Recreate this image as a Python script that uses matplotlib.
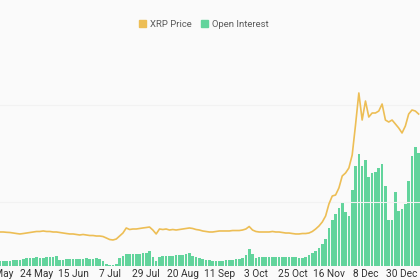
import matplotlib
matplotlib.use("Agg")
import matplotlib.pyplot as plt
import numpy as np
import pandas as pd
from matplotlib.patches import Patch

plt.rcParams['font.family'] = ['Roboto', 'DejaVu Sans']

# two-day samples, 2 May 2024 .. 9 Jan 2025
dates = pd.date_range("2024-05-02", periods=127, freq="2D")

xrp_price = [
    0.533, 0.533, 0.528, 0.525, 0.517, 0.509, 0.502, 0.509, 0.517, 0.525,
    0.533, 0.541, 0.541, 0.549, 0.541, 0.541, 0.533, 0.533, 0.525, 0.517,
    0.509, 0.502, 0.502, 0.494, 0.486, 0.494, 0.486, 0.478, 0.478, 0.470,
    0.470, 0.462, 0.439, 0.415, 0.408, 0.423, 0.470, 0.517, 0.596, 0.572,
    0.580, 0.580, 0.588, 0.596, 0.603, 0.611, 0.564, 0.502, 0.580, 0.572,
    0.580, 0.564, 0.572, 0.564, 0.572, 0.580, 0.588, 0.596, 0.588, 0.572,
    0.564, 0.549, 0.541, 0.533, 0.533, 0.541, 0.549, 0.549, 0.549, 0.549,
    0.556, 0.556, 0.556, 0.564, 0.580, 0.619, 0.564, 0.541, 0.533, 0.533,
    0.533, 0.533, 0.541, 0.533, 0.533, 0.525, 0.517, 0.517, 0.509, 0.502,
    0.502, 0.509, 0.509, 0.517, 0.541, 0.580, 0.627, 0.690, 0.784, 0.972,
    1.097, 1.113, 1.223, 1.411, 1.458, 1.536, 1.740, 2.210, 2.712, 2.288,
    2.586, 2.335, 2.398, 2.398, 2.429, 2.539, 2.288, 2.257, 2.288, 2.226,
    2.163, 2.085, 2.194, 2.382, 2.445, 2.429, 2.382,
]

# open interest, billion USD
open_interest = [
    0.17, 0.17, 0.17, 0.17, 0.20, 0.20, 0.20, 0.23, 0.27, 0.27,
    0.27, 0.30, 0.27, 0.27, 0.30, 0.30, 0.30, 0.33, 0.20, 0.20,
    0.23, 0.23, 0.23, 0.23, 0.23, 0.23, 0.27, 0.23, 0.23, 0.27,
    0.23, 0.17, 0.07, 0.03, 0.03, 0.07, 0.27, 0.33, 0.40, 0.40,
    0.40, 0.40, 0.40, 0.43, 0.43, 0.50, 0.30, 0.17, 0.30, 0.33,
    0.33, 0.33, 0.33, 0.37, 0.37, 0.37, 0.40, 0.43, 0.33, 0.30,
    0.27, 0.23, 0.20, 0.20, 0.17, 0.17, 0.17, 0.17, 0.20, 0.20,
    0.20, 0.23, 0.23, 0.27, 0.37, 0.57, 0.40, 0.27, 0.30, 0.30,
    0.30, 0.30, 0.30, 0.30, 0.30, 0.30, 0.30, 0.30, 0.30, 0.30,
    0.27, 0.27, 0.30, 0.37, 0.43, 0.50, 0.60, 0.74, 0.90, 1.27,
    1.54, 1.74, 1.94, 2.11, 1.81, 1.67, 2.54, 3.34, 3.75, 3.34,
    3.55, 2.98, 3.11, 3.14, 3.28, 3.41, 2.68, 1.54, 1.54, 2.47,
    1.84, 1.91, 2.07, 2.84, 3.68, 3.98, 3.78,
]

tick_dates = pd.date_range("2024-05-02", periods=12, freq="22D")
grid_levels = [1.0, 2.52]

price_color = "#EDBE55"
oi_color = "#62D49C"
bg = "#FAFAFA"

fig = plt.figure(figsize=(4.2, 2.8), dpi=100, facecolor=bg)
ax_oi = fig.add_axes([0, 14 / 280, 1, 266 / 280])
ax_oi.set_facecolor(bg)
ax = ax_oi.twinx()

ax_oi.bar(dates, open_interest, width=1.6, color=oi_color, linewidth=0, zorder=2)
ax_oi.set_ylim(0, 8.9)

for lv in grid_levels:
    ax.axhline(lv, color="#F2F2F2", linewidth=0.8, zorder=0)
ax.plot(dates, xrp_price, color=price_color, linewidth=1.2, zorder=3)
ax.set_ylim(0, 266 / 63.8)

start = pd.Timestamp("2024-05-02 10:00")
ax_oi.set_xlim(start, start + pd.Timedelta(days=252.4))

for a in (ax_oi, ax):
    for s in a.spines.values():
        s.set_visible(False)
    a.set_yticks([])
ax_oi.set_xticks(tick_dates)
ax_oi.set_xticklabels([d.strftime("%-d %b") for d in tick_dates])
ax_oi.tick_params(axis="x", length=0, pad=2.5, labelsize=7.3, labelcolor="#333333")

handles = [Patch(color=price_color, label="XRP Price"),
           Patch(color=oi_color, label="Open Interest")]
fig.legend(handles=handles, loc="center", bbox_to_anchor=(0.485, 0.913), ncol=2,
           frameon=False, fontsize=6.8, labelcolor="#5a5a5a",
           handlelength=0.75, handleheight=0.75, handletextpad=0.4, columnspacing=1.0)

fig.savefig("out.png", dpi=100, facecolor=bg)
